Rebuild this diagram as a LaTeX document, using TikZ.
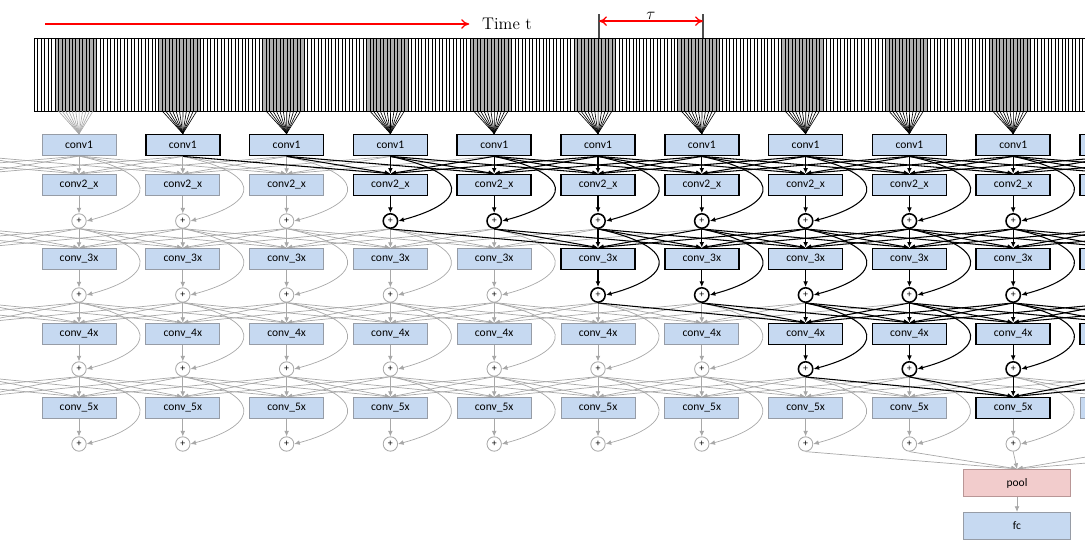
\documentclass[tikz,border=0pt]{standalone}
\usepackage{fontspec}
\newfontfamily\boxfont{Carlito}
\usetikzlibrary{arrows.meta,backgrounds}
\definecolor{boxblue}{RGB}{198,217,241}
\definecolor{boxpink}{RGB}{242,204,204}
\definecolor{rimgray}{RGB}{150,156,166}
\definecolor{rimpink}{RGB}{185,150,150}
\definecolor{wiregray}{RGB}{168,168,168}
\definecolor{barfill}{RGB}{175,175,175}
\tikzset{
  conv/.style   ={draw=rimgray,fill=boxblue,line width=0.7pt,minimum width=18.5mm,minimum height=5.3mm,inner sep=0pt,font=\boxfont\fontsize{8.2}{10}\selectfont},
  plus/.style   ={circle,draw=wiregray,fill=white,line width=0.6pt,minimum size=3.6mm,inner sep=0pt,font=\boxfont\fontsize{7}{7}\selectfont},
  poolbox/.style={conv,fill=boxpink,draw=rimpink,minimum width=26.8mm,minimum height=6.8mm},
  fcbox/.style  ={conv,minimum width=26.8mm,minimum height=6.8mm},
  wire/.style   ={draw=wiregray,line width=0.5pt,-{Latex[length=1.4mm,width=1.2mm]}},
  fan/.style    ={draw=wiregray,line width=0.45pt},
  litbox/.code  ={\ifnum#1=1\relax\tikzset{draw=black,line width=1.1pt}\fi},
  litwire/.code ={\ifnum#1=1\relax\tikzset{draw=black,line width=0.75pt}\fi},
  ghost/.code   ={\ifnum#1<1\relax\tikzset{draw=none,fill=none}\fi},
  axis/.style   ={red,line width=0.9pt,-{To[length=2mm,width=2.4mm]}},
  span/.style   ={red,line width=0.9pt,{To[length=2mm,width=2.4mm]}-{To[length=2mm,width=2.4mm]}},
  tick/.style   ={draw=black!70,line width=0.8pt},
}

\begin{document}
\begin{tikzpicture}[x=0.25mm,y=0.25mm]
\useasboundingbox (0,0) rectangle (1085,-543);

% time axis and tau
\node[font=\large] (time) at (507,-24) {Time t};
\coordinate (t0) at (45,-24);
\draw[axis,shorten >=2mm] (t0) -- (time.west);
\coordinate (tauA) at (599,-38);
\coordinate (tauB) at (703,-38);
\draw[tick] (tauA) -- ++(0,24);
\draw[tick] (tauB) -- ++(0,24);
\draw[span] ([yshift=12]tauA) -- ([yshift=12]tauB) node[midway,above=-2.5pt,black,font=\large] (tau) {$\tau$};

% frame strip
\foreach \j in {1,...,11}{
  \pgfmathsetmacro\xs{34.2+3.46*(6+30*(\j-1))}
  \fill[barfill] (\xs,-38) rectangle ++(41.5,-73);
}
\foreach \n in {0,...,305}
  \draw[line width=0.4pt] ({34.2+3.46*\n},-38) -- ++(0,-73);
\draw[line width=0.6pt] (34.2,-38) -- (1095,-38) (34.2,-111) -- (1095,-111);

% conv1 row (columns outside 1..10 carry no text)
\foreach \j in {-1,...,12}{
  \pgfmathsetmacro\x{79+103.8*(\j-1)}
  \pgfmathtruncatemacro\h{\j>1}
  \pgfmathtruncatemacro\shown{and(\j>0,\j<11)}
  \ifnum\shown=1 \def\txt{conv1}\else\def\txt{}\fi
  \node[conv,litbox=\h,ghost=\j] (c1-\j) at (\x,-145) {\txt};
}
% residual stages
\foreach \L/\lab/\yc/\yp/\lo/\hi in {2/conv2\_x/185/221/4/16,3/conv\_3x/259/295/6/14,4/conv\_4x/334/369/8/12,5/conv\_5x/408/444/10/10}{
  \foreach \j in {-1,...,12}{
    \pgfmathsetmacro\x{79+103.8*(\j-1)}
    \pgfmathtruncatemacro\h{and(\j>=\lo,\j<=\hi)}
    \pgfmathtruncatemacro\hp{and(\h,\L<5)}
    \pgfmathtruncatemacro\shown{and(\j>0,\j<11)}
    \ifnum\shown=1 \let\txt\lab\def\sym{+}\else\def\txt{}\def\sym{}\fi
    \node[conv,litbox=\h,ghost=\j] (c\L-\j) at (\x,-\yc) {\txt};
    \node[plus,litbox=\hp,ghost=\j] (p\L-\j) at (\x,-\yp) {\sym};
  }
}
\node[poolbox] (pool) at (1017,-483) {pool};
\node[fcbox] (fc) at (1017,-526) {fc};

% fans from the frames
\foreach \j in {1,...,11}{
  \pgfmathtruncatemacro\h{\j>1}
  \foreach \i in {1,...,11}{
    \pgfmathsetmacro\xs{34.2+3.46*(6+30*(\j-1)+\i)}
    \draw[fan,litwire=\h,line width=0.45pt] (\xs,-111) -- (c1-\j.north);
  }
}

\begin{scope}[on background layer]
\foreach \pass in {0,1}{
  \foreach \L/\S/\lo/\hi in {2/c1/4/16,3/p2/6/14,4/p3/8/12,5/p4/10/10}{
    \foreach \j in {-1,...,12}{
      \pgfmathtruncatemacro\h{and(\j>=\lo,\j<=\hi)}
      \pgfmathtruncatemacro\hp{and(\h,\L<5)}
      \ifnum\h=\pass
        \foreach \d in {-2,...,2}{
          \pgfmathtruncatemacro\k{\j+\d}
          \ifnum\k>-2\ifnum\k<13
            \draw[wire,litwire=\h] (\S-\k.south) -- (c\L-\j.north);
          \fi\fi
        }
      \fi
      \ifnum\j>0\ifnum\hp=\pass
        \draw[wire,litwire=\hp] (c\L-\j.south) -- (p\L-\j.north);
        \draw[wire,litwire=\hp] (\S-\j.south) .. controls +(-12:80) and +(15:75) .. (p\L-\j.east);
      \fi\fi
    }
  }
}
\foreach \k in {8,...,12}
  \draw[wire] (p5-\k.south) -- (pool.north);
\draw[wire] (pool) -- (fc);
\end{scope}
\end{tikzpicture}
\end{document}
